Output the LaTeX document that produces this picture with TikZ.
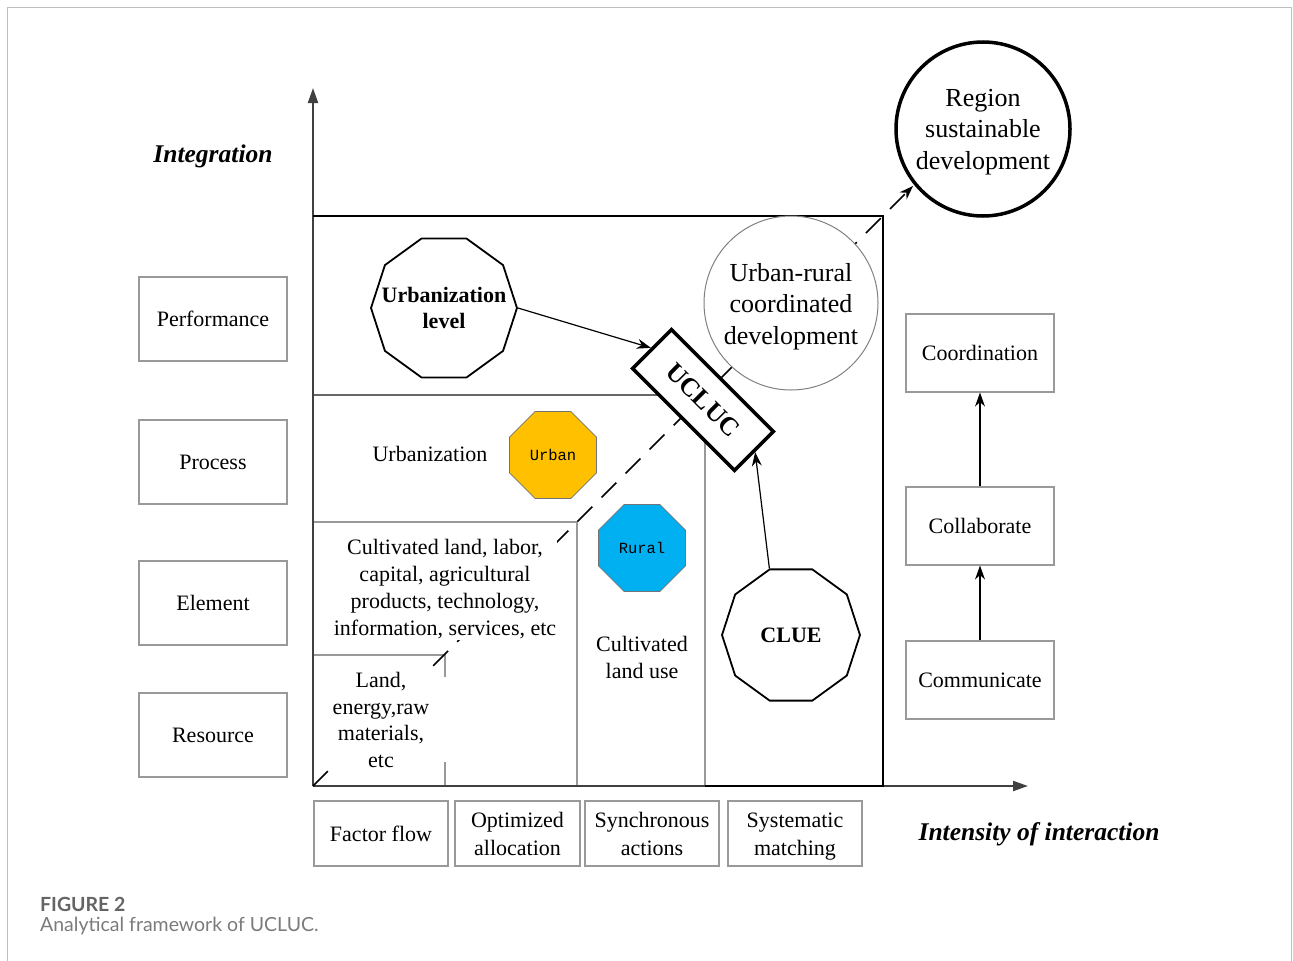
\documentclass[tikz,border=0pt]{standalone}
\usepackage{fontspec}
\setmainfont{Liberation Serif}
\setsansfont{Lato}
\setmonofont{Liberation Mono}
\usetikzlibrary{shapes.geometric,arrows.meta,calc}
\definecolor{urbanorange}{RGB}{255,192,0}
\definecolor{ruralblue}{RGB}{0,176,240}
\definecolor{captgray}{RGB}{100,100,100}
\newcommand\bst{\rule[-6pt]{0pt}{27pt}}
\begin{document}
\begin{tikzpicture}[x=1pt,y=-1pt,
  fs/.style={font=\fontsize{22}{27}\selectfont},
  sidebox/.style={draw=black!40, line width=1.1pt, minimum width=148pt, minimum height=84pt, inner sep=0pt, align=center, fs},
  rbox/.style={sidebox, minimum height=78pt},
  bbox/.style={sidebox, minimum width=134pt, minimum height=65pt, font=\fontsize{22}{26}\selectfont},
  decagon/.style={regular polygon, regular polygon sides=10, draw=black, line width=1.8pt, fill=white, inner sep=0pt},
  dectext/.style={align=center, inner sep=0pt, font=\fontsize{22}{26.5}\selectfont\bfseries},
  octagon/.style={regular polygon, regular polygon sides=8, minimum size=94pt, draw=black!55, line width=0.8pt, inner sep=0pt, font=\fontsize{15.5}{18}\selectfont\ttfamily},
  bigcircle/.style={circle, minimum size=174pt, inner sep=0pt, fill=white},
  circtext/.style={align=center, inner sep=0pt, font=\fontsize{26}{31.5}\selectfont},
  axisline/.style={draw=black!75, line width=2pt},
  thinline/.style={draw=black!40, line width=1.3pt},
  frameline/.style={draw=black, line width=2.6pt},
  conn/.style={-{Stealth[length=14pt,width=10pt]}, line width=1.2pt},
  axtip/.style={-{Triangle[length=15pt,width=10pt]}},
  plain/.style={fs, align=center},
  whitetext/.style={fs, align=center, fill=white, inner sep=1pt},
  axlabel/.style={font=\fontsize{25.5}{30}\selectfont\bfseries\itshape},
]
\path[use as bounding box] (0,0) rectangle (1293,961);
% outer frame
\draw[black!25, line width=1.5pt] (7.5,961) -- (7.5,7.5) -- (1291.5,7.5) -- (1291.5,961);

% coordinates
\coordinate (O) at (313,786);
\coordinate (ytip) at (313,88);
\coordinate (xtip) at (1028,786);
\coordinate (dtip) at (913,186);

% inner thin lines
\draw[draw=black!60, line width=1.5pt] (313,395) -- (690,395);
\draw[thinline] (705,420) -- (705,786);
\draw[thinline] (313,522) -- (577,522) -- (577,786);
\draw[thinline] (313,655) -- (445,655) -- (445,677);
\draw[thinline] (445,762) -- (445,786);

% axes
\draw[axisline, axtip] (O) -- (ytip);
\draw[axisline, axtip] (O) -- (xtip);

% big frame
\draw[frameline] (313,216) -- (883,216) -- (883,786) -- (705,786);

% dashed diagonal
\draw[line width=1.5pt, dash pattern=on 21pt off 13pt, -{Stealth[length=14pt,width=10pt]}] (O) -- (dtip);

% circles
\node[bigcircle, draw=black!50, line width=1pt] (urc) at (791,303) {};
\node[circtext] (urctext) at ([yshift=-3.5pt]urc.center) {Urban-rural\\coordinated\\development};
\node[bigcircle, draw=black, line width=3.5pt] (rsd) at (983,129) {};
\node[circtext] (rsdtext) at ([yshift=-3pt]rsd.center) {Region\\sustainable\\development};

% UCLUC box
\node[draw=black, line width=3.5pt, fill=white, rotate=-45, minimum width=144pt, minimum height=55pt, inner sep=0pt, font=\fontsize{26}{26}\selectfont\bfseries] (ucluc) at (703,400) {UCLUC};

% texts inside frame
\node[plain] (urbz) at (430,454) {Urbanization};
\node[whitetext] (cult) at (445,589) {Cultivated land, labor,\\capital, agricultural\\products, technology,\\information, services, etc};
\node[whitetext, font=\fontsize{22}{26.5}\selectfont] (land) at (381,720) {Land,\\energy,raw\\materials,\\etc};
\node[plain] (cland) at (642,657) {Cultivated\\land use};

% octagons
\node[octagon, fill=urbanorange] (urban) at (553,455) {Urban};
\node[octagon, fill=ruralblue] (rural) at (642,548) {Rural};

% decagons
\node[decagon, minimum size=146pt] (ulevel) at (444,308) {};
\node[dectext] (uleveltext) at (ulevel.center) {Urbanization\\level};
\node[decagon, minimum size=138pt] (clue) at (791,635) {};
\node[dectext] (cluetext) at (clue.center) {CLUE};

% arrows to UCLUC
\draw[conn] (ulevel.east) -- (ucluc.west);
\draw[conn] (clue.108) -- (ucluc.east);

% axis labels
\node[axlabel] (integ) at (213,156) {Integration};
\node[axlabel] (intens) at (1039,834) {Intensity of interaction};

% left boxes
\node[sidebox] (perf) at (213,319) {Performance};
\node[sidebox] (proc) at (213,462) {Process};
\node[sidebox] (elem) at (213,603) {Element};
\node[sidebox] (reso) at (213,735) {Resource};

% right boxes
\node[rbox] (coord) at (980,353) {Coordination};
\node[rbox] (collab) at (980,526) {Collaborate};
\node[rbox] (comm) at (980,680) {Communicate};
\draw[conn] (comm.north) -- (collab.south);
\draw[conn] (collab.north) -- (coord.south);

% bottom boxes
\node[bbox] (ff) at (381,833.5) {Factor flow};
\node[bbox, minimum width=125pt] (oa) at (517.5,833.5) {\bst Optimized\\\bst allocation};
\node[bbox] (sa) at (652,833.5) {\bst Synchronous\\\bst actions};
\node[bbox] (sm) at (795,833.5) {\bst Systematic\\\bst matching};

% caption
\node[anchor=base west, inner sep=0pt, text=captgray, font=\fontsize{19.5}{22}\selectfont\sffamily\bfseries] (fig) at (40,911) {FIGURE 2};
\node[anchor=base west, inner sep=0pt, text=captgray!85, font=\fontsize{19.5}{22}\selectfont\sffamily] (capt) at (40,931) {Analytical framework of UCLUC.};
\end{tikzpicture}
\end{document}
